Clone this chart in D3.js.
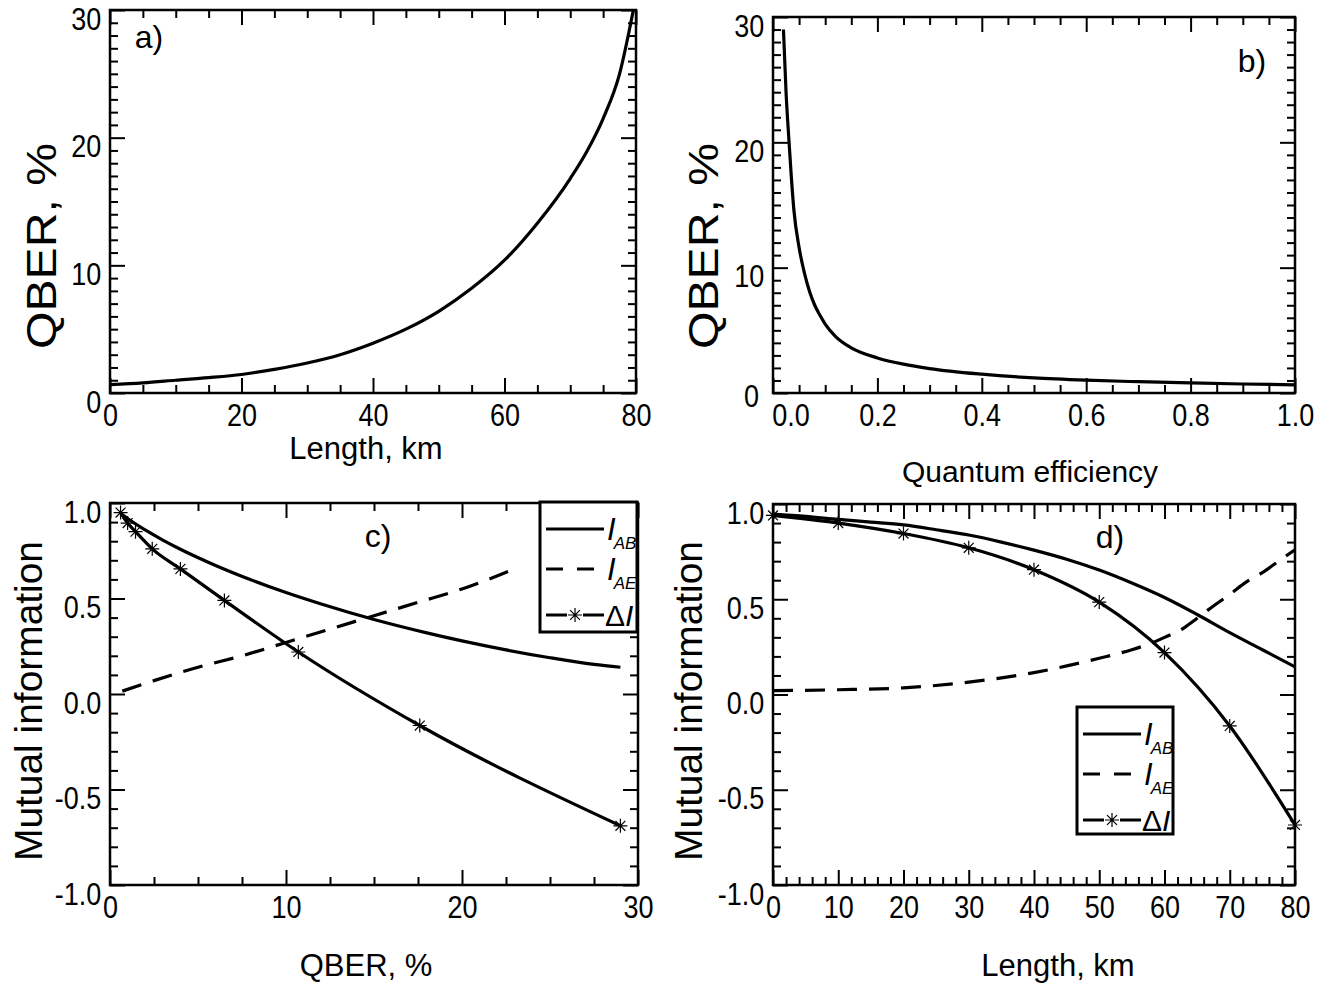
<!DOCTYPE html>
<html>
<head>
<meta charset="utf-8">
<script src="https://cdn.jsdelivr.net/npm/d3@7"></script>
<style>
  body { margin: 0; background: #fff; }
  text { font-family: Arial, "Liberation Sans", sans-serif; fill: #000; }
</style>
</head>
<body>
<div id="container"></div>
<script>
/* DATA */
// a) QBER vs length
const lengthA = [0, 5, 10, 15, 20, 25, 30, 35, 40, 45, 50, 55, 60, 65, 70, 72.5, 75, 77.5, 79.6];
const qberA = [0.65, 0.8, 1.0, 1.2, 1.45, 1.85, 2.35, 3.0, 3.9, 5.0, 6.4, 8.2, 10.4, 13.3, 16.8, 18.9, 21.5, 25.0, 30.0];

// b) QBER vs quantum efficiency
const etaB = [0.02, 0.025, 0.03, 0.035, 0.04, 0.05, 0.06, 0.07, 0.08, 0.09, 0.1, 0.12, 0.15, 0.2, 0.25, 0.3, 0.4, 0.5, 0.6, 0.7, 0.8, 0.9, 1.0];
const qberB = [29.0, 24.0, 20.5, 17.3, 14.6, 11.6, 9.6, 8.1, 7.0, 6.2, 5.5, 4.5, 3.6, 2.8, 2.3, 1.95, 1.5, 1.2, 1.02, 0.9, 0.8, 0.72, 0.65];

// c) mutual information vs QBER
const qberC = [0.6, 1, 2, 3, 4, 6, 8, 10, 12, 15, 18, 20, 22.5, 25, 27.5, 29];
const iabC = [0.947, 0.919, 0.859, 0.806, 0.758, 0.673, 0.598, 0.531, 0.471, 0.39, 0.32, 0.278, 0.231, 0.19, 0.155, 0.14];
const qberCE = [0.7, 2.5, 5, 7.5, 10, 12.5, 15, 17.5, 20, 23];
const iaeC = [0.015, 0.07, 0.14, 0.2, 0.27, 0.34, 0.41, 0.48, 0.55, 0.655];
const qberCMarks = [0.6, 1.0, 1.45, 2.4, 4.0, 6.5, 10.7, 17.6, 29.0];
const dIC = [0.95, 0.895, 0.85, 0.76, 0.655, 0.49, 0.22, -0.165, -0.69];

// d) mutual information vs length
const lengthD = [0, 5, 10, 15, 20, 25, 30, 35, 40, 45, 50, 55, 60, 65, 70, 75, 80];
const iabD = [0.947, 0.935, 0.919, 0.905, 0.89, 0.865, 0.837, 0.8, 0.758, 0.71, 0.653, 0.585, 0.509, 0.42, 0.325, 0.235, 0.145];
const lengthDE = [0, 10, 20, 30, 40, 50, 55, 58, 60, 63, 65, 67.5, 70, 72.5, 75, 77.5, 80];
const iaeD = [0.02, 0.025, 0.035, 0.065, 0.115, 0.19, 0.235, 0.27, 0.3, 0.35, 0.4, 0.465, 0.525, 0.59, 0.64, 0.7, 0.76];
const lengthDMarks = [0, 10, 20, 30, 40, 50, 60, 70, 80];
const dID = [0.94, 0.9, 0.845, 0.77, 0.655, 0.485, 0.22, -0.165, -0.685];

// ticks
const ticksLenA = [0, 20, 40, 60, 80];
const ticksQber30 = [0, 10, 20, 30];
const ticksEta = [0, 0.2, 0.4, 0.6, 0.8, 1.0];
const ticksQberC = [0, 10, 20, 30];
const ticksLenD = [0, 10, 20, 30, 40, 50, 60, 70, 80];
const ticksMI = [-1, -0.5, 0, 0.5, 1];

const W = 1319, H = 985;
const svg = d3.select('#container')
  .append('svg')
  .attr('width', W)
  .attr('height', H);

const range = (a, b, s) => d3.range(a, b + s / 2, s).map(v => +v.toFixed(4));
const fmt1 = v => d3.format('.1f')(v).replace('\u2212', '-');

// draws box, inward ticks on 4 sides, tick labels
function frame(x, y, o) {
  const g = svg.append('g');
  const [x0, x1] = x.range();
  const [y0, y1] = y.range(); // y0 bottom, y1 top
  const isMajor = (list, v) => list.some(m => Math.abs(m - v) < 1e-6);
  const xMin = o.xMinor.filter(v => !isMajor(o.xMajor, v));
  const yMin = o.yMinor.filter(v => !isMajor(o.yMajor, v));
  const none = () => '';

  [[d3.axisBottom, y0, o.fx], [d3.axisTop, y1, null]].forEach(([mk, pos, f]) => {
    g.append('g').attr('transform', `translate(0,${pos})`)
      .call(mk(x).tickValues(xMin).tickSize(-8).tickSizeOuter(0).tickFormat(none));
    g.append('g').attr('class', f ? 'xlab' : '').attr('transform', `translate(0,${pos})`)
      .call(mk(x).tickValues(o.xMajor).tickSize(-15).tickSizeOuter(0).tickPadding(11).tickFormat(f || none));
  });
  [[d3.axisLeft, x0, o.fy], [d3.axisRight, x1, null]].forEach(([mk, pos, f]) => {
    g.append('g').attr('transform', `translate(${pos},0)`)
      .call(mk(y).tickValues(yMin).tickSize(-8).tickSizeOuter(0).tickFormat(none));
    g.append('g').attr('class', f ? 'ylab' : '').attr('transform', `translate(${pos},0)`)
      .call(mk(y).tickValues(o.yMajor).tickSize(-15).tickSizeOuter(0).tickPadding(10).tickFormat(f || none));
  });
  g.selectAll('.domain').remove();
  g.selectAll('.tick line').attr('stroke', '#000').attr('stroke-width', 2);
  // tick labels in the picture are a little narrow and tall
  g.selectAll('.tick text')
    .attr('font-size', 31)
    .attr('transform', 'scale(0.87,1)')
    .attr('font-family', 'Arial, "Liberation Sans", sans-serif');
  g.selectAll('.ylab .tick text').attr('dy', '0.62em');
  g.append('rect')
    .attr('x', x0).attr('y', y1)
    .attr('width', x1 - x0).attr('height', y0 - y1)
    .attr('fill', 'none').attr('stroke', '#000').attr('stroke-width', 2.5);
  return g;
}

function curve(xs, ys, x, y, dash) {
  const pts = xs.map((v, i) => [v, ys[i]]);
  svg.append('path')
    .datum(pts)
    .attr('fill', 'none')
    .attr('stroke', '#000')
    .attr('stroke-width', 3.2)
    .attr('stroke-dasharray', dash || null)
    .attr('d', d3.line().x(d => x(d[0])).y(d => y(d[1])).curve(d3.curveMonotoneX));
}

function asterisk(g, cx, cy, r) {
  const p = d3.path();
  for (let k = 0; k < 4; k++) {
    const a = k * Math.PI / 4;
    p.moveTo(cx - r * Math.cos(a), cy - r * Math.sin(a));
    p.lineTo(cx + r * Math.cos(a), cy + r * Math.sin(a));
  }
  g.append('path').attr('d', p.toString()).attr('stroke', '#000').attr('stroke-width', 1.2).attr('fill', 'none');
}

function markers(xs, ys, x, y) {
  const g = svg.append('g');
  xs.forEach((v, i) => asterisk(g, x(v), y(ys[i]), 7));
}

function label(txt, x, y, size) {
  return svg.append('text')
    .attr('x', x).attr('y', y)
    .attr('text-anchor', 'middle')
    .attr('font-size', size)
    .text(txt);
}

// rotated axis title, stretched to the length it has in the picture
function vlabel(txt, x, y, size, len) {
  return svg.append('text')
    .attr('transform', `translate(${x},${y}) rotate(-90)`)
    .attr('text-anchor', 'middle')
    .attr('font-size', size)
    .attr('textLength', len)
    .attr('lengthAdjust', 'spacingAndGlyphs')
    .text(txt);
}

function legend(bx, by, bw, bh) {
  const g = svg.append('g');
  g.append('rect').attr('x', bx).attr('y', by).attr('width', bw).attr('height', bh)
    .attr('fill', '#fff').attr('stroke', '#000').attr('stroke-width', 3);
  const rows = [
    { dy: 27, dash: null, sub: 'AB' },
    { dy: 67, dash: '17,14', sub: 'AE' },
    { dy: 113, dash: null, sub: null }
  ];
  const lx0 = bx + 6, lx1 = bx + 64;
  rows.forEach(r => {
    const yy = by + r.dy;
    if (r.sub) {
      g.append('line').attr('x1', lx0).attr('x2', lx1).attr('y1', yy).attr('y2', yy)
        .attr('stroke', '#000').attr('stroke-width', 3).attr('stroke-dasharray', r.dash);
      const t = g.append('text').attr('x', lx1 + 3).attr('y', yy + 11).attr('font-size', 31).attr('font-style', 'italic');
      t.append('tspan').text('I');
      t.append('tspan').attr('font-size', 17).attr('dy', 9).attr('dx', -2).text(r.sub);
    } else {
      const mid = (lx0 + lx1) / 2;
      g.append('line').attr('x1', lx0).attr('x2', mid - 8).attr('y1', yy).attr('y2', yy)
        .attr('stroke', '#000').attr('stroke-width', 3);
      g.append('line').attr('x1', mid + 8).attr('x2', lx1).attr('y1', yy).attr('y2', yy)
        .attr('stroke', '#000').attr('stroke-width', 3);
      asterisk(g, mid, yy, 7);
      const t = g.append('text').attr('x', lx1 + 1).attr('y', yy + 11).attr('font-size', 30);
      t.append('tspan').text('\u0394');
      t.append('tspan').attr('font-style', 'italic').text('I');
    }
  });
}

/* PANEL A */
const xa = d3.scaleLinear().domain([0, 80]).range([110, 636]);
const ya = d3.scaleLinear().domain([0, 30]).range([393, 10]);
frame(xa, ya, { xMajor: ticksLenA, xMinor: range(0, 80, 5), yMajor: ticksQber30, yMinor: range(0, 30, 1), fx: d3.format('d'), fy: d3.format('d') });
curve(lengthA, qberA, xa, ya);
label('a)', 149, 48, 32);
label('Length, km', 366, 459, 31);
vlabel('QBER, %', 56, 246, 42, 206);

/* PANEL B */
const xb = d3.scaleLinear().domain([0, 1]).range([773, 1295]);
const yb = d3.scaleLinear().domain([0, 30]).range([393, 17]);
const gb = frame(xb, yb, { xMajor: ticksEta, xMinor: range(0, 1, 0.05), yMajor: ticksQber30, yMinor: range(0, 30, 1), fx: d3.format('.1f'), fy: d3.format('d') });
gb.selectAll('.xlab .tick text').filter(d => d === 0).attr('dx', 20);
gb.selectAll('.ylab .tick text').filter(d => d === 0).attr('dy', '0.42em').attr('dx', -6);
curve(etaB, qberB, xb, yb);
label('b)', 1252, 72, 32);
label('Quantum efficiency', 1030, 482, 30);
vlabel('QBER, %', 718, 246, 42, 206);

/* PANEL C */
const xc = d3.scaleLinear().domain([0, 30]).range([110, 638]);
const yc = d3.scaleLinear().domain([-1, 1]).range([885, 503]);
frame(xc, yc, { xMajor: ticksQberC, xMinor: range(0, 30, 2.5), yMajor: ticksMI, yMinor: range(-1, 1, 0.1), fx: d3.format('d'), fy: fmt1 });
curve(qberC, iabC, xc, yc);
curve(qberCE, iaeC, xc, yc, '20,12');
curve(qberCMarks, dIC, xc, yc);
markers(qberCMarks, dIC, xc, yc);
label('c)', 378, 547, 32);
label('QBER, %', 366, 976, 31);
vlabel('Mutual information', 42, 701, 38, 320);
legend(540, 502, 97, 130);

/* PANEL D */
const xd = d3.scaleLinear().domain([0, 80]).range([773, 1295]);
const yd = d3.scaleLinear().domain([-1, 1]).range([885, 504]);
frame(xd, yd, { xMajor: ticksLenD, xMinor: range(0, 80, 2), yMajor: ticksMI, yMinor: range(-1, 1, 0.1), fx: d3.format('d'), fy: fmt1 });
curve(lengthD, iabD, xd, yd);
curve(lengthDE, iaeD, xd, yd, '20,12');
curve(lengthDMarks, dID, xd, yd);
markers(lengthDMarks, dID, xd, yd);
label('d)', 1110, 548, 32);
label('Length, km', 1058, 976, 31);
vlabel('Mutual information', 702, 701, 38, 320);
legend(1077, 707, 96, 127);
</script>
</body>
</html>
